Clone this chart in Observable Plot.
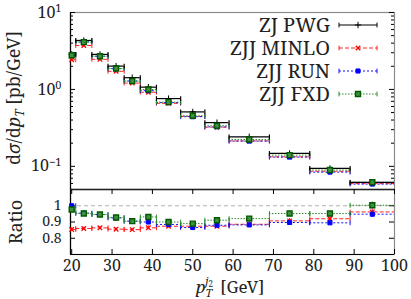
<!DOCTYPE html>
<html><head><meta charset="utf-8">
<script src="https://cdn.jsdelivr.net/npm/d3@7"></script>
<script src="https://cdn.jsdelivr.net/npm/@observablehq/plot@0.6"></script>
<style>
body{margin:0;background:#fff;}
#chart{position:relative;width:411px;height:299px;}
#chart svg{display:block;}
</style></head><body><div id="chart"></div>
<script>
// ---- data ----
const binLo  = [19, 21, 25, 29, 33, 37, 41, 47, 53, 59, 69, 79, 89];
const binHi  = [21, 25, 29, 33, 37, 41, 47, 53, 59, 69, 79, 89, 100];
const binMid = [20, 23, 27, 31, 35, 39, 44, 50, 56, 64, 74, 84, 94.5];
const zjPwg    = [2.85, 4.33, 2.85, 2.01, 1.42, 1.07, 0.76, 0.51, 0.37, 0.242, 0.147, 0.094, 0.062];
const zjjMinlo = [2.43, 3.72, 2.46, 1.72, 1.21, 0.92, 0.66, 0.446, 0.323, 0.214, 0.133, 0.0865, 0.0596];
const zjjRun   = [2.85, 4.14, 2.70, 1.86, 1.285, 0.963, 0.673, 0.442, 0.326, 0.213, 0.132, 0.0841, 0.0588];
const zjjFxd   = [2.78, 4.12, 2.70, 1.87, 1.285, 0.996, 0.684, 0.454, 0.337, 0.223, 0.140, 0.0895, 0.0622];
const relErr   = [0.015, 0.01, 0.01, 0.01, 0.01, 0.012, 0.012, 0.012, 0.015, 0.015, 0.02, 0.02, 0.025];
const ratioMinlo = [0.854, 0.860, 0.864, 0.856, 0.853, 0.864, 0.874, 0.874, 0.874, 0.886, 0.907, 0.920, 0.962];
const ratioRun   = [1.000, 0.955, 0.946, 0.925, 0.905, 0.900, 0.885, 0.866, 0.880, 0.882, 0.897, 0.895, 0.948];
const ratioFxd   = [0.977, 0.952, 0.946, 0.928, 0.905, 0.931, 0.900, 0.890, 0.911, 0.921, 0.952, 0.952, 1.003];
const ratioErr   = [0.012, 0.008, 0.008, 0.008, 0.008, 0.012, 0.01, 0.01, 0.012, 0.012, 0.015, 0.015, 0.02];
const xTicks = [20, 30, 40, 50, 60, 70, 80, 90, 100];
const yMajor = [0.1, 1, 10];
const yMinor = [0.05,0.06,0.07,0.08,0.09,0.2,0.3,0.4,0.5,0.6,0.7,0.8,0.9,2,3,4,5,6,7,8,9];
const ratioTicks = [0.8, 0.9, 1];
const ratioTickLabels = ["0.8", "0.9", "1"];
const legendNames = ["ZJ PWG", "ZJJ MINLO", "ZJJ RUN", "ZJJ FXD"];

// ---- styling ----
const W = 411, ML = 70, MR = 17, FW = W - ML - MR;
const xDomain = [19.7, 100];
const FONT = "'Noto Serif', 'DejaVu Serif', serif";
const vbar = {draw(ctx, size){ const r = Math.sqrt(size/Math.PI); ctx.moveTo(0,-r); ctx.lineTo(0,r); }};

const S = [
  {name: legendNames[0], vals: zjPwg, ratio: null, color: "#000000", dash: null, sw: 1.2,
   marker: {symbol: "plus", r: 2.2, fill: "none", stroke: "#000", strokeWidth: 1}},
  {name: legendNames[1], vals: zjjMinlo, ratio: ratioMinlo, color: "#ff2020", dash: "4,2", sw: 1,
   marker: {symbol: "times", r: 2.2, fill: "none", stroke: "#ff0000", strokeWidth: 1.3}},
  {name: legendNames[2], vals: zjjRun, ratio: ratioRun, color: "#1010ff", dash: "2,2", sw: 1,
   marker: {symbol: "square", r: 2.3, fill: "#0000ff", stroke: "#0000ff", strokeWidth: 1}},
  {name: legendNames[3], vals: zjjFxd, ratio: ratioFxd, color: "#2a8a2a", dash: "1.5,1.5", sw: 1,
   marker: {symbol: "square", r: 2.8, fill: "#3f8f3f", stroke: "#005a00", strokeWidth: 1.4}}
];

function rowsUpper(s){ return binMid.map((m,i)=>({lo:binLo[i], hi:binHi[i], mid:m, v:s.vals[i], v1:s.vals[i]*(1-relErr[i]), v2:s.vals[i]*(1+relErr[i])})); }
function rowsRatio(s){ return binMid.map((m,i)=>({lo:binLo[i], hi:binHi[i], mid:m, v:s.ratio[i], v1:s.ratio[i]-ratioErr[i], v2:s.ratio[i]+ratioErr[i]})); }

function binMarks(rows, s){
  return [
    Plot.ruleY(rows, {y:"v", x1:"lo", x2:"hi", stroke:s.color, strokeDasharray:s.dash, strokeWidth:s.sw, clip:true}),
    Plot.dot(rows, {x:"lo", y:"v", symbol:vbar, r:2.4, fill:"none", stroke:s.color, strokeWidth:s.sw, clip:true}),
    Plot.dot(rows, {x:"hi", y:"v", symbol:vbar, r:2.4, fill:"none", stroke:s.color, strokeWidth:s.sw, clip:true}),
    Plot.ruleX(rows, {x:"mid", y1:"v1", y2:"v2", stroke:s.color, strokeWidth:s.sw})
  ];
}
function markerMarks(rows, s){
  return Plot.dot(rows, {x:"mid", y:"v", ...s.marker});
}

const drawOrder = [1, 2, 3, 0];
const markerOrder = [0, 1, 2, 3];

const upper = Plot.plot({
  width: W, height: 189, marginLeft: ML, marginRight: MR, marginTop: 12, marginBottom: 0,
  style: {fontFamily: FONT, fontSize: "16px", background: "white", color: "#222"},
  x: {domain: xDomain, axis: null},
  y: {type: "log", domain: [0.05, 10], axis: null},
  marks: [
    Plot.frame({stroke: "#8a8a8a", strokeWidth: 1.2}),
    Plot.ruleX([xDomain[0]], {stroke: "#000", strokeWidth: 1.2}),
    Plot.ruleY([0.05], {stroke: "#222", strokeWidth: 1.5}),
    Plot.tickY(yMajor, {y: d=>d, insetRight: FW-5, stroke: "#000"}),
    Plot.tickY(yMajor, {y: d=>d, insetLeft: FW-5, stroke: "#000"}),
    Plot.tickY(yMinor, {y: d=>d, insetRight: FW-3, stroke: "#000"}),
    Plot.tickY(yMinor, {y: d=>d, insetLeft: FW-3, stroke: "#000"}),
    Plot.axisY({ticks: yMajor, tickSize: 0, tickPadding: 9, tickFormat: d => "10^" + Math.round(Math.log10(d)), fontSize: 16}),
    ...drawOrder.flatMap(i => binMarks(rowsUpper(S[i]), S[i])),
    ...markerOrder.map(i => markerMarks(rowsUpper(S[i]), S[i]))
  ]
});

const lower = Plot.plot({
  width: W, height: 110, marginLeft: ML, marginRight: MR, marginTop: 0, marginBottom: 45,
  style: {fontFamily: FONT, fontSize: "16px", background: "white", color: "#222"},
  x: {domain: xDomain, axis: null},
  y: {domain: [0.7, 1.1], axis: null},
  marks: [
    Plot.frame({stroke: "#8a8a8a", strokeWidth: 1.2}),
    Plot.ruleX([xDomain[0]], {stroke: "#000", strokeWidth: 1.2}),
    Plot.ruleY([0.7], {stroke: "#000", strokeWidth: 1.2}),
    Plot.ruleY([1.1], {stroke: "#222", strokeWidth: 1.5}),
    Plot.ruleY([1], {stroke: "#b0b0b0", strokeDasharray: "4,3", strokeWidth: 1}),
    Plot.tickX(xTicks, {x: d=>d, insetTop: 65-5, stroke: "#000"}),
    Plot.tickX(xTicks, {x: d=>d, insetBottom: 65-5, stroke: "#000"}),
    Plot.tickY(ratioTicks, {y: d=>d, insetRight: FW-5, stroke: "#000"}),
    Plot.tickY(ratioTicks, {y: d=>d, insetLeft: FW-5, stroke: "#000"}),
    Plot.axisY({ticks: ratioTicks, tickSize: 0, tickPadding: 9, tickFormat: d => ratioTickLabels[ratioTicks.indexOf(d)], fontSize: 14}),
    Plot.axisX({ticks: xTicks, tickSize: 0, tickPadding: 5, fontSize: 16}),
    ...[1,2,3].flatMap(i => binMarks(rowsRatio(S[i]), S[i])),
    ...[1,2,3].map(i => markerMarks(rowsRatio(S[i]), S[i]))
  ]
});

const root = document.getElementById("chart");
root.append(upper, lower);

d3.select(upper).selectAll('g[aria-label="y-axis tick label"] text').each(function(){
  const t = d3.select(this);
  const [base, exp] = t.text().split("^");
  t.text(null);
  t.append("tspan").text(base);
  t.append("tspan").attr("dy", "-0.5em").attr("font-size", "11px").text(exp.replace("-", "\u2212"));
});

const ut = d3.select(upper).append("text")
  .attr("transform", "translate(20,98) rotate(-90)")
  .attr("text-anchor", "middle").attr("font-family", FONT).attr("font-size", "18px").attr("fill", "#222");
ut.append("tspan").text("d");
ut.append("tspan").attr("font-style", "italic").text("σ");
ut.append("tspan").text("/d");
ut.append("tspan").attr("font-style", "italic").text("p");
ut.append("tspan").attr("font-style", "italic").attr("font-size", "12px").attr("dy", 4).text("T");
ut.append("tspan").attr("dy", -4).text(" [pb/GeV]");

const lg = d3.select(upper).append("g").attr("font-family", FONT).attr("font-size", "20px").attr("fill", "#222");
S.forEach((s, i) => {
  const cy = 25 + 23 * i;
  lg.append("text").attr("x", 330).attr("y", cy).attr("dy", "0.36em").attr("text-anchor", "end").text(s.name);
  lg.append("line").attr("x1", 339).attr("x2", 377).attr("y1", cy).attr("y2", cy)
    .attr("stroke", s.color).attr("stroke-width", s.sw).attr("stroke-dasharray", s.dash);
  [339, 377].forEach(x => lg.append("line").attr("x1", x).attr("x2", x).attr("y1", cy-2.4).attr("y2", cy+2.4).attr("stroke", s.color));
  const m = s.marker;
  const sym = {plus: d3.symbolPlus, times: d3.symbolTimes, square: d3.symbolSquare}[m.symbol];
  lg.append("path").attr("transform", `translate(358,${cy})`).attr("d", d3.symbol(sym, m.r*m.r*Math.PI)())
    .attr("fill", m.fill).attr("stroke", m.stroke).attr("stroke-width", m.strokeWidth);
});

d3.select(lower).append("text").attr("transform", "translate(22,33) rotate(-90)")
  .attr("text-anchor", "middle").attr("font-family", FONT).attr("font-size", "18px").attr("fill", "#222").text("Ratio");
const xt = d3.select(lower).append("text").attr("x", 230).attr("y", 104)
  .attr("text-anchor", "middle").attr("font-family", FONT).attr("font-size", "17px").attr("fill", "#222");
xt.append("tspan").attr("font-style", "italic").text("p");
xt.append("tspan").attr("font-style", "italic").attr("font-size", "11px").attr("dy", 4).text("T");
xt.append("tspan").attr("font-style", "italic").attr("font-size", "11px").attr("dx", -7).attr("dy", -12).text("j");
xt.append("tspan").attr("font-size", "8px").attr("dy", 2).text("2");
xt.append("tspan").attr("dy", 6).attr("dx", 3).text(" [GeV]");
</script>
</body></html>
